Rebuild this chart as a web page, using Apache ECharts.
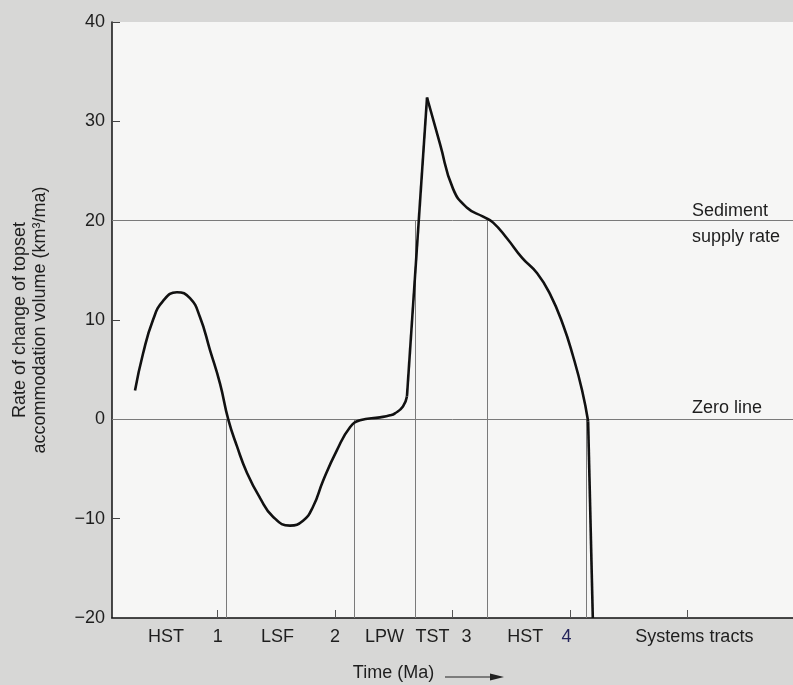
<!DOCTYPE html>
<html>
<head>
<meta charset="utf-8">
<script src="https://cdn.jsdelivr.net/npm/echarts@6/dist/echarts.min.js"></script>
<style>
  html, body {
    margin: 0;
    padding: 0;
    background: #d7d7d6;
  }
  #chart {
    width: 793px;
    height: 685px;
  }
</style>
</head>
<body>
<div id="chart"></div>
<script>
// first smooth part of the curve (HST, LSF, LPW)
const timeA = [0.296, 0.364, 0.449, 0.534, 0.653, 0.764, 0.849, 0.934, 1.020, 1.090,
  1.164, 1.250, 1.360, 1.471, 1.616, 1.727, 1.812, 1.897, 2.016, 2.127,
  2.212, 2.383, 2.468, 2.510, 2.578, 2.612]
const rateA = [2.9, 6.6, 10.0, 11.9, 12.8, 12.2, 10.3, 7.0, 3.6, 0,
  -2.7, -5.4, -7.9, -9.8, -10.7, -10.2, -8.8, -6.2, -3.1, -0.8,
  -0.1, 0.2, 0.4, 0.6, 1.3, 2.3]

// second smooth part (after the TST peak)
const timeB = [2.783, 2.894, 3.005, 3.124, 3.261, 3.346, 3.465, 3.593, 3.721, 3.831,
  3.942, 4.027, 4.104, 4.155]
const rateB = [32.4, 27.7, 23.2, 21.3, 20.4, 19.8, 18.2, 16.25, 14.7, 12.6,
  9.5, 6.35, 2.9, -0.2]

// steep fall at the end
const tailTime = [4.155, 4.195]
const tailRate = [-0.2, -20]

// reference levels
const sedimentSupply = 20
const zeroLevel = 0

// systems tract boundaries and where their lines start
const boundaryTimes = [1.077, 2.164, 2.687, 3.296, 4.135]
const boundaryTops = [0, 0, 20, 20, 0]

// bottom axis
const tickTimes = [1, 2, 3, 4, 5]
const labelTimes = [0.56, 1.0, 1.51, 2.0, 2.42, 2.83, 3.12, 3.62, 3.97, 5.06]
const labelTexts = ['HST', '1', 'LSF', '2', 'LPW', 'TST', '3', 'HST', '4', 'Systems tracts']

const zip = (xs, ys) => xs.map((x, i) => [x, ys[i]])

const font = "'Liberation Sans', Arial, Helvetica, sans-serif"
const curveStyle = { color: '#111', width: 2.6 }

const chart = echarts.init(document.getElementById('chart'))

const option = {
  animation: false,
  textStyle: { fontFamily: font },
  grid: {
    left: 112,
    right: 0,
    top: 22,
    bottom: 67,
    show: true,
    backgroundColor: '#f6f6f5',
    borderWidth: 0,
    outerBoundsMode: 'none'
  },
  xAxis: {
    type: 'value',
    min: 0.1,
    max: 5.9,
    name: 'Time (Ma)',
    nameLocation: 'middle',
    nameGap: 46,
    nameTextStyle: {
      fontSize: 18,
      color: '#1e1e1e',
      fontFamily: font,
      padding: [0, 118, 0, 0]
    },
    axisLine: { show: true, onZero: false, lineStyle: { color: '#111', width: 1.5 } },
    axisTick: {
      show: true,
      inside: true,
      length: 8,
      customValues: tickTimes,
      lineStyle: { color: '#555' }
    },
    axisLabel: {
      show: true,
      customValues: labelTimes,
      margin: 10,
      fontSize: 18,
      color: '#1e1e1e',
      fontFamily: font,
      formatter: (val) => {
        const i = labelTimes.findIndex((p) => Math.abs(p - val) < 1e-6)
        if (i < 0) return ''
        if (labelTexts[i] === '4') return '{navy|4}'
        return labelTexts[i]
      },
      rich: {
        navy: { fontSize: 18, color: '#23235a', fontFamily: font }
      }
    },
    splitLine: { show: false }
  },
  yAxis: {
    type: 'value',
    min: -20,
    max: 40,
    interval: 10,
    name: 'Rate of change of topset\naccommodation volume (km³/ma)',
    nameLocation: 'middle',
    nameRotate: 90,
    nameGap: 62,
    nameTextStyle: {
      fontSize: 18,
      lineHeight: 20,
      color: '#1e1e1e',
      fontFamily: font
    },
    axisLine: { show: true, onZero: false, lineStyle: { color: '#111', width: 1.5 } },
    axisTick: { show: true, inside: true, length: 8, lineStyle: { color: '#444' } },
    axisLabel: {
      margin: 7,
      fontSize: 18,
      color: '#1e1e1e',
      fontFamily: font,
      formatter: (v) => String(v).replace('-', '\u2212')
    },
    splitLine: { show: false }
  },
  graphic: [
    {
      type: 'line',
      shape: { x1: 445, y1: 677, x2: 493, y2: 677 },
      style: { stroke: '#222', lineWidth: 1.2 }
    },
    {
      type: 'polygon',
      shape: { points: [[490, 673.5], [504, 677], [490, 680.5]] },
      style: { fill: '#222' }
    }
  ],
  series: [
    {
      // reference lines, boundaries and their labels
      type: 'line',
      data: [],
      silent: true,
      markLine: {
        silent: true,
        symbol: 'none',
        label: { show: false },
        lineStyle: { color: '#7a7a7a', width: 1, type: 'solid' },
        data: [
          { yAxis: sedimentSupply },
          { yAxis: zeroLevel },
          ...boundaryTimes.map((t, i) => [
            { coord: [t, boundaryTops[i]] },
            { coord: [t, -20] }
          ])
        ]
      },
      markPoint: {
        silent: true,
        symbol: 'circle',
        symbolSize: 0,
        data: [
          {
            coord: [5.04, sedimentSupply],
            label: {
              show: true,
              formatter: 'Sediment\nsupply rate',
              position: [0, 3],
              align: 'left',
              verticalAlign: 'middle',
              fontSize: 18,
              lineHeight: 26,
              color: '#1e1e1e',
              fontFamily: font
            }
          },
          {
            coord: [5.04, zeroLevel],
            label: {
              show: true,
              formatter: 'Zero line',
              position: [0, -2],
              align: 'left',
              verticalAlign: 'bottom',
              fontSize: 18,
              color: '#1e1e1e',
              fontFamily: font
            }
          }
        ]
      }
    },
    {
      type: 'line',
      data: zip(timeA, rateA),
      smooth: 0.5,
      symbol: 'none',
      lineStyle: curveStyle,
      z: 5
    },
    {
      type: 'line',
      data: [[timeA[timeA.length - 1], rateA[rateA.length - 1]], [timeB[0], rateB[0]]],
      symbol: 'none',
      lineStyle: curveStyle,
      z: 5
    },
    {
      type: 'line',
      data: zip(timeB, rateB),
      smooth: 0.5,
      symbol: 'none',
      lineStyle: curveStyle,
      z: 5
    },
    {
      type: 'line',
      data: zip(tailTime, tailRate),
      symbol: 'none',
      lineStyle: curveStyle,
      z: 5
    }
  ]
}

chart.setOption(option)
</script>
</body>
</html>
